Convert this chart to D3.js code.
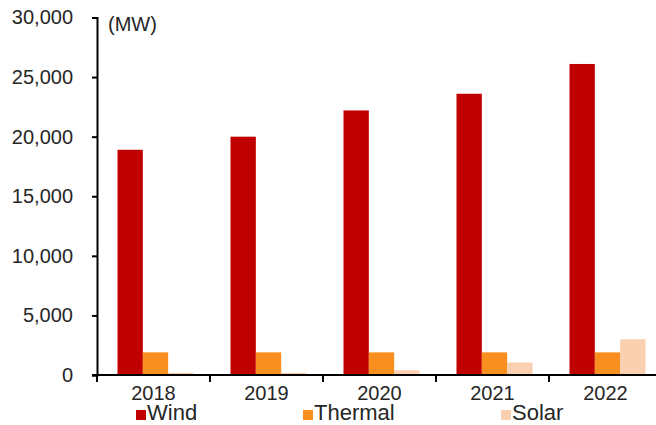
<!DOCTYPE html>
<html>
<head>
<meta charset="utf-8">
<script src="https://cdn.jsdelivr.net/npm/d3@7"></script>
<style>
  body { margin: 0; background: #fff; }
  svg { display: block; font-family: "Liberation Sans", Arial, sans-serif; }
</style>
</head>
<body>
<script>
// chart data
var years = ['2018', '2019', '2020', '2021', '2022'];
var seriesNames = ['Wind', 'Thermal', 'Solar'];
var wind = [18900, 20000, 22200, 23600, 26100];
var thermal = [1900, 1900, 1900, 1900, 1900];
var solar = [180, 180, 400, 1050, 3000];
var yTicks = [0, 5000, 10000, 15000, 20000, 25000, 30000];
var unitLabel = '(MW)';

var colors = { Wind: '#C00000', Thermal: '#F98F1E', Solar: '#FAD0B0' };
var legendX = [136, 303, 501];

var width = 656, height = 425;
var plotLeft = 97, plotRight = 662, plotTop = 17.5, plotBottom = 375;

var svg = d3.select('body').append('svg')
  .attr('width', width)
  .attr('height', height);

var x0 = d3.scaleBand().domain(years).range([plotLeft, plotRight]).padding(0);
var x1 = d3.scaleBand().domain(seriesNames).range([20.5, 96.5]).padding(0);
var y = d3.scaleLinear().domain([0, 30000]).range([plotBottom, plotTop]);

var rows = years.map(function (yr, i) {
  return { year: yr, values: [
    { name: 'Wind', v: wind[i] },
    { name: 'Thermal', v: thermal[i] },
    { name: 'Solar', v: solar[i] }
  ]};
});

// bars
var groups = svg.selectAll('g.grp')
  .data(rows)
  .enter()
  .append('g')
  .attr('class', 'grp')
  .attr('transform', function (d) { return 'translate(' + x0(d.year) + ',0)'; });

groups.selectAll('rect')
  .data(function (d) { return d.values; })
  .enter()
  .append('rect')
  .attr('x', function (d) { return x1(d.name); })
  .attr('width', x1.bandwidth())
  .attr('y', function (d) { return y(d.v); })
  .attr('height', function (d) { return plotBottom - y(d.v); })
  .attr('fill', function (d) { return colors[d.name]; });

// y axis
var yAxis = svg.append('g')
  .attr('transform', 'translate(' + plotLeft + ',0)')
  .call(d3.axisLeft(y).tickValues(yTicks).tickSize(5).tickPadding(19)
    .tickFormat(d3.format(',')));
yAxis.select('.domain').attr('stroke', '#000').attr('stroke-width', 2);
yAxis.selectAll('.tick line').attr('stroke', '#000').attr('stroke-width', 2);
yAxis.selectAll('.tick text').attr('font-size', 20).attr('fill', '#262626')
  .attr('font-family', '"Liberation Sans", Arial, sans-serif');

// x axis
var xAxis = svg.append('g')
  .attr('transform', 'translate(0,' + plotBottom + ')')
  .call(d3.axisBottom(x0).tickSize(0).tickPadding(11));
xAxis.select('.domain').remove();
xAxis.append('line')
  .attr('x1', plotLeft - 5).attr('x2', width)
  .attr('stroke', '#000').attr('stroke-width', 2);
xAxis.selectAll('.tick text').attr('font-size', 20).attr('fill', '#262626')
  .attr('font-family', '"Liberation Sans", Arial, sans-serif');

// category boundary ticks
xAxis.selectAll('line.sep')
  .data(years)
  .enter()
  .append('line')
  .attr('class', 'sep')
  .attr('x1', function (d) { return x0(d); })
  .attr('x2', function (d) { return x0(d); })
  .attr('y1', 0).attr('y2', 7)
  .attr('stroke', '#000').attr('stroke-width', 2);

// unit label
svg.append('text')
  .attr('x', 108).attr('y', 31)
  .attr('font-size', 20)
  .attr('fill', '#262626')
  .text(unitLabel);

// legend
var legend = svg.selectAll('g.leg')
  .data(seriesNames)
  .enter()
  .append('g')
  .attr('class', 'leg')
  .attr('transform', function (d, i) { return 'translate(' + legendX[i] + ',410)'; });

legend.append('rect')
  .attr('width', 10).attr('height', 10)
  .attr('fill', function (d) { return colors[d]; });

legend.append('text')
  .attr('x', 11).attr('y', 10)
  .attr('font-size', 22)
  .attr('fill', '#262626')
  .text(function (d) { return d; });
</script>
</body>
</html>
